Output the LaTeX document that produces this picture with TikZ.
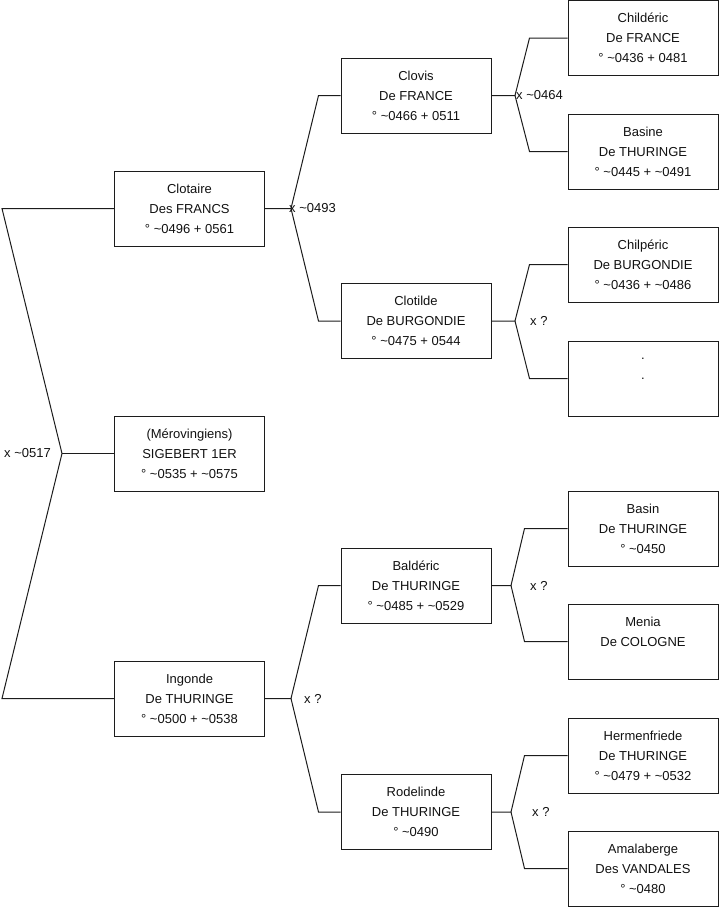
\documentclass[tikz,border=0pt]{standalone}
\usepackage{fontspec}
\setmainfont{Liberation Sans}
\usetikzlibrary{positioning}
\usepackage{xcolor}
\definecolor{trait}{HTML}{1C1C1C}
\definecolor{encre}{HTML}{111111}
\newcommand{\env}{\textasciitilde}

\begin{document}
\begin{tikzpicture}[
  x=1pt, y=-1pt,
  font=\fontsize{13}{20}\selectfont,
  personne/.style={draw=trait, line width=1pt, minimum width=150pt, minimum height=75pt,
                   inner sep=0pt, align=center, text=encre},
  lien/.style={draw=trait, line width=1pt},
  union/.style={inner sep=0pt, text=encre, font=\fontsize{13}{15}\selectfont}
]
\useasboundingbox (0,0) rectangle (719,908);

% generation 1
\node[personne] (clotaire) at (189.5,208.5) {Clotaire\\Des FRANCS\\° \env0496 + 0561};
\node[personne] (sigebert) at (189.5,453.5) {(Mérovingiens)\\SIGEBERT 1ER\\° \env0535 + \env0575};
\node[personne] (ingonde)  at (189.5,698.5) {Ingonde\\De THURINGE\\° \env0500 + \env0538};

% generation 2
\node[personne] (clovis)    at (416,95.5)  {Clovis\\De FRANCE\\° \env0466 + 0511};
\node[personne] (clotilde)  at (416,321)   {Clotilde\\De BURGONDIE\\° \env0475 + 0544};
\node[personne] (balderic)  at (416,585.5) {Baldéric\\De THURINGE\\° \env0485 + \env0529};
\node[personne] (rodelinde) at (416,812)   {Rodelinde\\De THURINGE\\° \env0490};

% generation 3
\node[personne] (childeric)    at (643,38)    {Childéric\\De FRANCE\\° \env0436 + 0481};
\node[personne] (basine)       at (643,151.5) {Basine\\De THURINGE\\° \env0445 + \env0491};
\node[personne] (chilperic)    at (643,264.5) {Chilpéric\\De BURGONDIE\\° \env0436 + \env0486};
\node[personne] (inconnue)     at (643,378.5) {.\\.\\\mbox{}};
\node[personne] (basin)        at (643,528.5) {Basin\\De THURINGE\\° \env0450};
\node[personne] (menia)        at (643,641.5) {Menia\\De COLOGNE\\\mbox{}};
\node[personne] (hermenfriede) at (643,755.5) {Hermenfriede\\De THURINGE\\° \env0479 + \env0532};
\node[personne] (amalaberge)   at (643,868.5) {Amalaberge\\Des VANDALES\\° \env0480};

% unions
\coordinate (u0) at (62,453.5);
\coordinate (u0haut) at (2,208.5);
\coordinate (u0bas) at (2,698.5);
\coordinate[right=26pt of clotaire] (u1);
\coordinate[right=26pt of ingonde] (u2);
\coordinate[right=23.5pt of clovis] (u3);
\coordinate[right=23.5pt of clotilde] (u4);
\coordinate[right=19.5pt of balderic] (u5);
\coordinate[right=19.5pt of rodelinde] (u6);

\draw[lien] (clotaire.west) -- (u0haut) -- (u0) -- (u0bas) -- (ingonde.west);
\draw[lien] (u0) -- (sigebert.west);

\draw[lien] (clotaire.east) -- (u1) -- ([xshift=-22pt]clovis.west) -- (clovis.west);
\draw[lien] (u1) -- ([xshift=-22pt]clotilde.west) -- (clotilde.west);
\draw[lien] (ingonde.east) -- (u2) -- ([xshift=-22pt]balderic.west) -- (balderic.west);
\draw[lien] (u2) -- ([xshift=-22pt]rodelinde.west) -- (rodelinde.west);

\draw[lien] (clovis.east) -- (u3) -- ([xshift=-38pt]childeric.west) -- (childeric.west);
\draw[lien] (u3) -- ([xshift=-38pt]basine.west) -- (basine.west);
\draw[lien] (clotilde.east) -- (u4) -- ([xshift=-38pt]chilperic.west) -- (chilperic.west);
\draw[lien] (u4) -- ([xshift=-38pt]inconnue.west) -- (inconnue.west);
\draw[lien] (balderic.east) -- (u5) -- ([xshift=-43pt]basin.west) -- (basin.west);
\draw[lien] (u5) -- ([xshift=-43pt]menia.west) -- (menia.west);
\draw[lien] (rodelinde.east) -- (u6) -- ([xshift=-43pt]hermenfriede.west) -- (hermenfriede.west);
\draw[lien] (u6) -- ([xshift=-43pt]amalaberge.west) -- (amalaberge.west);

% dates de mariage
\node[union, left=11pt of u0]  (m0) {x \env0517};
\node[union, right=-2pt of u1] (m1) {x \env0493};
\node[union, right=13pt of u2] (m2) {x ?};
\node[union, right=1pt of u3]  (m3) {x \env0464};
\node[union, right=15pt of u4] (m4) {x ?};
\node[union, right=19pt of u5] (m5) {x ?};
\node[union, right=21pt of u6] (m6) {x ?};

\end{tikzpicture}
\end{document}
